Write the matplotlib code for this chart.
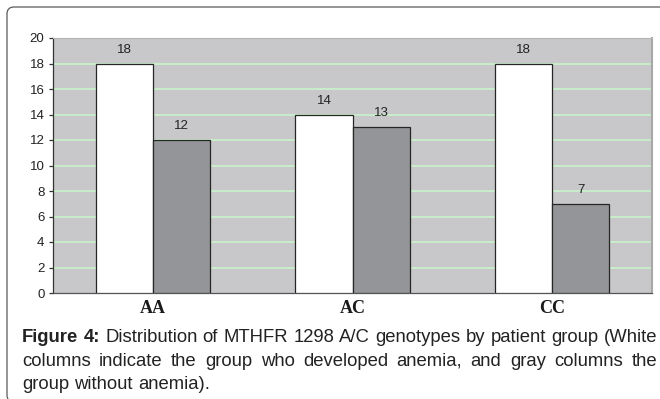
import matplotlib
matplotlib.use("Agg")
import matplotlib.pyplot as plt
from matplotlib.patches import FancyBboxPatch
from matplotlib.transforms import IdentityTransform
import numpy as np

categories = ["AA", "AC", "CC"]
anemia = [18, 14, 18]      # white columns
no_anemia = [12, 13, 7]    # gray columns
yticks = [0, 2, 4, 6, 8, 10, 12, 14, 16, 18, 20]

caption_lines = [
    ["Figure", "4:", "Distribution", "of", "MTHFR", "1298", "A/C", "genotypes", "by", "patient", "group", "(White"],
    ["columns", "indicate", "the", "group", "who", "developed", "anemia,", "and", "gray", "columns", "the"],
    ["group", "without", "anemia)."],
]

W, H = 660, 399
fig = plt.figure(figsize=(W / 100, H / 100), dpi=100)
fig.patch.set_facecolor("white")

# outer rounded frame (page border)
frame = FancyBboxPatch((7, -3), 720, 399 - 7 + 3, boxstyle="round,pad=0,rounding_size=7",
                       transform=IdentityTransform(), facecolor="none",
                       edgecolor="#5a5a5a", linewidth=0.9)
fig.patches.append(frame)

ax = fig.add_axes([53 / W, (H - 293) / H, 599 / W, 255 / H])
ax.set_facecolor("#c8c8ca")
x = np.arange(len(categories))
w = 0.2857
for yv in yticks[1:-1]:
    ax.axhline(yv, color="#c9efc9", lw=1.3, zorder=1)
b1 = ax.bar(x - w / 2, anemia, w, color="white", edgecolor="#262626", lw=0.9, zorder=3)
b2 = ax.bar(x + w / 2, no_anemia, w, color="#949598", edgecolor="#262626", lw=0.9, zorder=3)
for bars, vals in ((b1, anemia), (b2, no_anemia)):
    for r, v in zip(bars, vals):
        ax.annotate(str(v), (r.get_x() + r.get_width() / 2, v), xytext=(0, 10),
                    textcoords="offset points", ha="center", va="center",
                    fontsize=9.5, color="#222222", family="Liberation Sans")

ax.set_xlim(-0.5, 2.5)
ax.set_ylim(0, 20)
ax.set_yticks(yticks)
ax.set_yticklabels([str(t) for t in yticks], fontsize=9.5, color="#222222", family="Liberation Sans")
ax.tick_params(axis="y", length=3.2, width=0.9, color="#333333", pad=3)
ax.set_xticks(x)
ax.set_xticklabels(categories, fontsize=13, fontweight="bold", family="Liberation Serif", color="#1a1a1a")
ax.tick_params(axis="x", length=0, pad=5)
ax.spines["left"].set_color("#333333")
ax.spines["left"].set_linewidth(0.9)
ax.spines["bottom"].set_color("#555555")
ax.spines["bottom"].set_linewidth(0.9)
ax.spines["top"].set_color("#b5b5b5")
ax.spines["right"].set_color("#a8a8a8")
ax.spines["right"].set_linewidth(1.5)

# justified caption
renderer = fig.canvas.get_renderer()
left, right = 22, 657
baselines = [342, 366, 389]
fs = 13.3
for li, (words, base) in enumerate(zip(caption_lines, baselines)):
    texts = []
    for wi, word in enumerate(words):
        bold = (li == 0 and wi < 2)
        t = fig.text(0, 0, word, fontsize=fs, family="Liberation Sans",
                     fontweight="bold" if bold else "normal", color="#222222",
                     va="baseline", ha="left", transform=IdentityTransform())
        texts.append(t)
    widths = [t.get_window_extent(renderer).width for t in texts]
    if li < len(caption_lines) - 1:
        gap = (right - left - sum(widths)) / (len(words) - 1)
    else:
        sp = fig.text(0, 0, "a a", fontsize=fs, family="Liberation Sans")
        sp2 = fig.text(0, 0, "aa", fontsize=fs, family="Liberation Sans")
        gap = sp.get_window_extent(renderer).width - sp2.get_window_extent(renderer).width
        sp.remove(); sp2.remove()
    cx = left
    for t, wd in zip(texts, widths):
        t.set_position((cx, H - base))
        cx += wd + gap

fig.savefig("out.png", dpi=100)
